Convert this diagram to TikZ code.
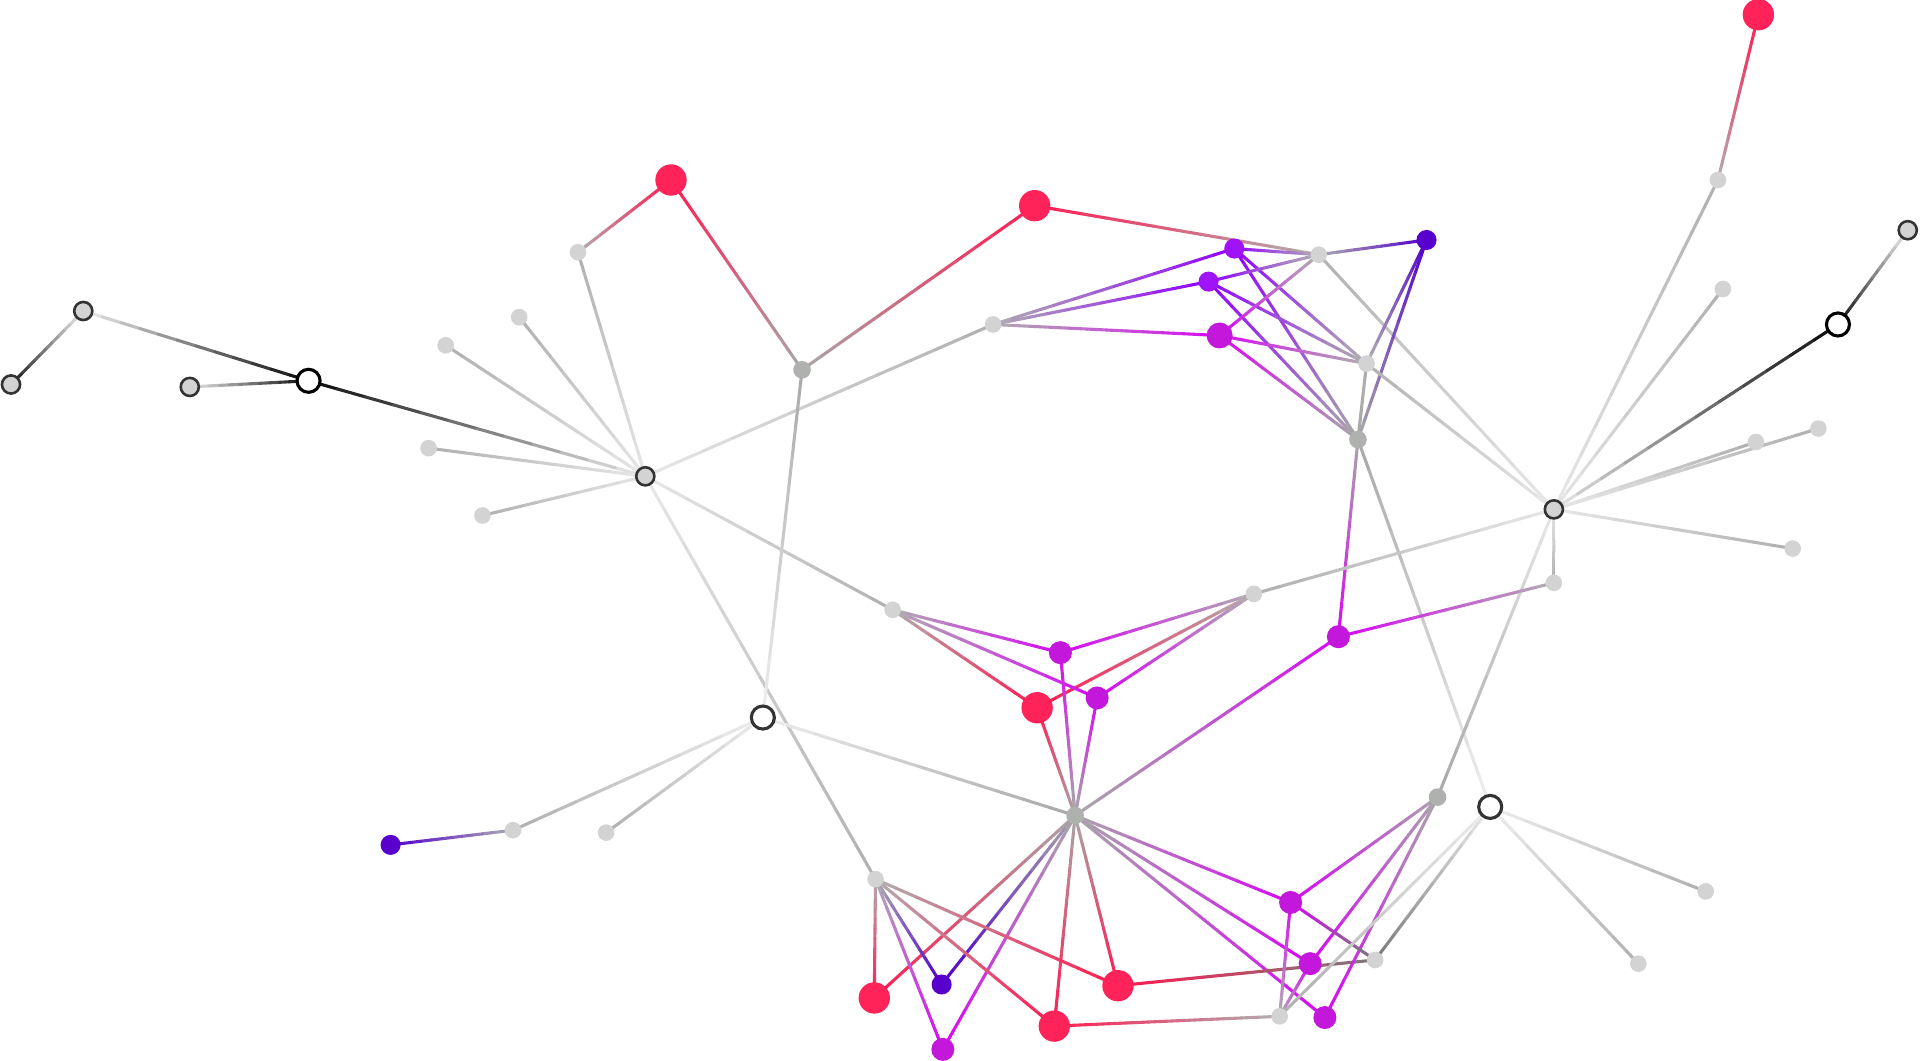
\documentclass[tikz,border=0pt]{standalone}
\usepackage{xcolor}
\usepackage{tikz}
\usetikzlibrary{calc}

\definecolor{lgray}{HTML}{D3D3D3}
\definecolor{dgray}{HTML}{AFB1AF}
\definecolor{rdfill}{HTML}{FF235A}
\definecolor{mgfill}{HTML}{C417DC}
\definecolor{vifill}{HTML}{A012F7}
\definecolor{dvfill}{HTML}{5A00CC}

\definecolor{ecleaf}{HTML}{B0B0B0}
\definecolor{ecleafdk}{HTML}{7A7A7A}
\definecolor{ecdark}{HTML}{A8A8A8}
\definecolor{echub}{HTML}{E8E8E8}
\definecolor{ecring}{HTML}{EEEEEE}
\definecolor{ecringdk}{HTML}{111111}
\definecolor{ecopen}{HTML}{0A0A0A}
\definecolor{ecopenlt}{HTML}{EEEEEE}
\definecolor{ecrd}{HTML}{FF1A52}
\definecolor{ecmg}{HTML}{D808F4}
\definecolor{ecmgb}{HTML}{D808F4}
\definecolor{ecvi}{HTML}{9200FF}
\definecolor{ecdv}{HTML}{5200CC}

\pgfdeclarelayer{edges}
\pgfsetlayers{edges,main}

\newcommand{\nd}[3]{\colorlet{ec#2}{ec#1}\node[#1] (#2) at (#3) {};}
\newcommand{\lnk}[2]{%
  \foreach \k in {1,...,12}{%
    \pgfmathtruncatemacro{\mx}{100-(\k-0.5)*100/12}%
    \draw[edge,draw=ec#1!\mx!ec#2] ($(#1)!{(\k-1)/12}!(#2)$) -- ($(#1)!{\k/12}!(#2)$);
  }}

\tikzset{
  vtx/.style={circle, inner sep=0pt, draw=none},
  leaf/.style={vtx, fill=lgray, minimum size=1.7mm},
  leafdk/.style={leaf},
  dark/.style={vtx, fill=dgray, minimum size=1.8mm},
  hub/.style={vtx, fill=lgray, draw=black!80, line width=0.75pt, minimum size=1.85mm},
  ring/.style={hub},
  ringdk/.style={hub},
  open/.style={vtx, fill=white, draw=black, line width=0.9pt, minimum size=2.35mm},
  openlt/.style={open, draw=black!80},
  rd/.style={vtx, fill=rdfill, minimum size=3.2mm},
  mg/.style={vtx, fill=mgfill, minimum size=2.35mm},
  mgb/.style={vtx, fill=mgfill, minimum size=2.65mm},
  vi/.style={vtx, fill=vifill, minimum size=2.05mm},
  dv/.style={vtx, fill=dvfill, minimum size=2.05mm},
  edge/.style={line width=0.9pt, line cap=round}
}

\begin{document}
\begin{tikzpicture}[x=0.0125cm, y=-0.0125cm]
  \useasboundingbox (0,0) rectangle (1568,866);

  \nd{ringdk}{L1}{9,314}
  \nd{ring}{L2}{68,254}
  \nd{ring}{L3}{155,316}
  \nd{open}{W1}{252,311}
  \nd{hub}{H1}{527,389}
  \nd{leaf}{a1}{472,206}
  \nd{rd}{R1}{548,147}
  \nd{leaf}{a2}{424,259}
  \nd{leaf}{a3}{364,282}
  \nd{leaf}{a4}{350,366}
  \nd{leaf}{a5}{394,421}
  \nd{dark}{D1}{655,302}
  \nd{rd}{R2}{845,168}
  \nd{leaf}{a6}{811,265}
  \nd{vi}{P1}{1008,203}
  \nd{vi}{P2}{987,230}
  \nd{mgb}{M1}{996,274}
  \nd{leaf}{a7}{1077,208}
  \nd{dv}{V1}{1165,196}
  \nd{leaf}{a8}{1116,297}
  \nd{dark}{D2}{1109,359}
  \nd{hub}{H2}{1269,416}
  \nd{leaf}{a9}{1403,147}
  \nd{rd}{R3}{1436,12}
  \nd{leaf}{a10}{1407,236}
  \nd{open}{W2}{1501,265}
  \nd{ring}{L4}{1558,188}
  \nd{leaf}{a11}{1434,361}
  \nd{leaf}{a12}{1485,350}
  \nd{leaf}{a13}{1464,448}
  \nd{leaf}{a14}{1269,476}
  \nd{leaf}{a15}{1024,485}
  \nd{mg}{M2}{1093,520}
  \nd{leaf}{a16}{729,498}
  \nd{mg}{M3}{866,533}
  \nd{rd}{R4}{847,578}
  \nd{mg}{M4}{896,570}
  \nd{openlt}{W3}{623,586}
  \nd{leaf}{a17}{419,678}
  \nd{dv}{V2}{319,690}
  \nd{leaf}{a18}{495,680}
  \nd{dark}{D3}{878,666}
  \nd{leaf}{a19}{715,718}
  \nd{rd}{R5}{714,815}
  \nd{dv}{V3}{769,804}
  \nd{mg}{M5}{770,857}
  \nd{rd}{R6}{861,838}
  \nd{rd}{R7}{913,805}
  \nd{dark}{D4}{1174,651}
  \nd{openlt}{W4}{1217,659}
  \nd{mg}{M6}{1054,737}
  \nd{mg}{M7}{1070,787}
  \nd{leafdk}{a20}{1123,784}
  \nd{leaf}{a21}{1045,830}
  \nd{mg}{M8}{1082,831}
  \nd{leaf}{a22}{1393,728}
  \nd{leaf}{a23}{1338,787}

  \begin{pgfonlayer}{edges}
    \foreach \a/\b in {L1/L2, L2/W1, L3/W1, W1/H1,
        H1/a1, H1/a2, H1/a3, H1/a4, H1/a5, H1/a6, H1/a16, H1/a19,
        a1/R1, R1/D1, D1/R2, D1/W3, R2/a7,
        a6/P1, a6/P2, a6/M1,
        P1/a7, P1/a8, P1/D2, P2/a7, P2/a8, P2/D2, M1/a7, M1/a8, M1/D2,
        a7/V1, a7/H2, V1/a8, V1/D2, a8/D2, a8/H2,
        D2/M2, D2/W4,
        H2/a9, a9/R3, H2/a10, H2/W2, W2/L4, H2/a11, H2/a12, H2/a13, H2/a14, H2/a15, H2/D4,
        a14/M2, M2/D3,
        a15/M3, a15/R4, a15/M4, a16/M3, a16/R4, a16/M4,
        M3/D3, R4/D3, M4/D3,
        W3/a17, W3/a18, a17/V2, W3/D3,
        D3/R5, D3/V3, D3/M5, D3/R6, D3/R7, D3/M6, D3/M7, D3/M8,
        a19/R5, a19/V3, a19/M5, a19/R6, a19/R7,
        R6/a21, R7/a20,
        D4/M6, D4/M7, D4/M8, M6/a20, M6/a21, M7/a21,
        W4/a20, W4/a21, W4/a22, W4/a23}
      {\lnk{\a}{\b}}
  \end{pgfonlayer}
\end{tikzpicture}
\end{document}
